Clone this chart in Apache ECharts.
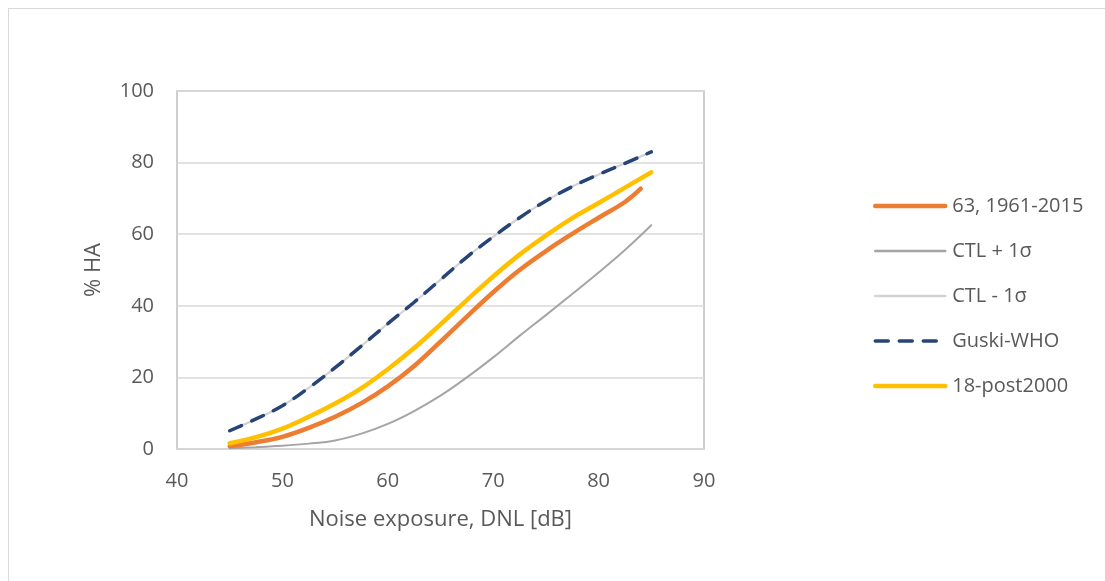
<!DOCTYPE html>
<html>
<head>
<meta charset="utf-8">
<script src="https://cdn.jsdelivr.net/npm/echarts@6/dist/echarts.min.js"></script>
<style>
  html, body { margin: 0; padding: 0; background: #fff; }
  #frame { position: absolute; left: 8px; top: 8px; width: 1097px; height: 573px;
           border-top: 1.5px solid #d9d9d9; border-left: 1.5px solid #d9d9d9; }
  #chart { position: absolute; left: 0; top: 0; width: 1105px; height: 581px; }
</style>
</head>
<body>
<div id="frame"></div>
<div id="chart"></div>
<script>
// DNL [dB] sample points
const dnl = [45, 47.5, 50, 52.5, 55, 57.5, 60, 62.5, 65, 67.5, 70, 72.5, 75, 77.5, 80, 82.5, 85];
const dnlOrange = [45, 47.5, 50, 52.5, 55, 57.5, 60, 62.5, 65, 67.5, 70, 72.5, 75, 77.5, 80, 82.5, 84];

// % HA
const ha63 = [0.8, 1.9, 3.4, 5.9, 9.0, 12.8, 17.5, 23.2, 30.0, 37.0, 43.8, 50.0, 55.3, 60.1, 64.6, 69.0, 72.7];
const ctlPlus = [0.2, 0.5, 0.9, 1.5, 2.4, 4.3, 7.0, 10.6, 14.9, 20.0, 25.6, 31.6, 37.4, 43.3, 49.3, 55.6, 62.5];
const ctlMinus = [5.1, 8.4, 12.1, 17.1, 22.7, 28.8, 35.0, 41.0, 47.3, 53.6, 59.3, 64.6, 69.3, 73.3, 76.7, 79.8, 83.0];
const guski = [5.1, 8.4, 12.1, 17.1, 22.7, 28.8, 35.0, 41.0, 47.3, 53.6, 59.3, 64.6, 69.3, 73.3, 76.7, 79.8, 83.0];
const post2000 = [1.6, 3.3, 5.7, 9.0, 12.7, 17.0, 22.3, 28.2, 34.8, 41.6, 48.2, 54.3, 59.6, 64.5, 68.7, 73.0, 77.3];

const names = ['63, 1961-2015', 'CTL + 1σ', 'CTL - 1σ', 'Guski-WHO', '18-post2000'];

const pairs = (xs, ys) => xs.map((x, i) => [x, ys[i]]);
const txt = '#595959';
const font = 'Open Sans';

const mk = (name, xs, ys, color, width, dash, z) => ({
    name,
    type: 'line',
    data: pairs(xs, ys),
    smooth: 0.4,
    showSymbol: false,
    symbol: 'none',
    z,
    lineStyle: { color, width, type: dash || 'solid', cap: 'round' },
    itemStyle: { color },
});

const chart = echarts.init(document.getElementById('chart'));
chart.setOption({
    animation: false,
    textStyle: { fontFamily: font },
    grid: { left: 177, top: 91, width: 527, height: 358, show: true, borderColor: '#bfbfbf', borderWidth: 1.5 },
    legend: {
        orient: 'vertical',
        left: 873, top: 196, padding: 0,
        itemWidth: 70, itemHeight: 20, itemGap: 25,
        itemStyle: { opacity: 0 },
        data: [
            { name: names[0], lineStyle: { width: 4.5 } },
            { name: names[1], lineStyle: { width: 2.5 } },
            { name: names[2], lineStyle: { width: 2.5 } },
            { name: names[3], lineStyle: { width: 3.5 } },
            { name: names[4], lineStyle: { width: 4.5 } },
        ],
        textStyle: { color: txt, fontSize: 20, lineHeight: 20, fontFamily: font, padding: [0, 0, 0, 2] },
    },
    xAxis: {
        type: 'value', min: 40, max: 90, interval: 10,
        name: 'Noise exposure, DNL [dB]', nameLocation: 'middle', nameGap: 60,
        nameTextStyle: { color: txt, fontSize: 22, fontFamily: font },
        axisLine: { show: false }, axisTick: { show: false },
        axisLabel: { color: txt, fontSize: 20, margin: 22 },
        splitLine: { show: false },
    },
    yAxis: {
        type: 'value', min: 0, max: 100, interval: 20,
        name: '% HA', nameLocation: 'middle', nameGap: 72,
        nameTextStyle: { color: txt, fontSize: 22, fontFamily: font },
        axisLine: { show: false }, axisTick: { show: false },
        axisLabel: { color: txt, fontSize: 20, margin: 23 },
        splitLine: { lineStyle: { color: '#d9d9d9', width: 1.5 } },
    },
    series: [
        mk(names[0], dnlOrange, ha63, '#ED7D31', 4.5, null, 4),
        mk(names[1], dnl, ctlPlus, '#A5A5A5', 2, null, 2),
        mk(names[2], dnl, ctlMinus, '#D3D3D3', 2.2, null, 2),
        mk(names[3], dnl, guski, '#264478', 3.5, [13, 11], 3),
        mk(names[4], dnl, post2000, '#FFC000', 4.5, null, 5),
    ],
});
</script>
</body>
</html>
